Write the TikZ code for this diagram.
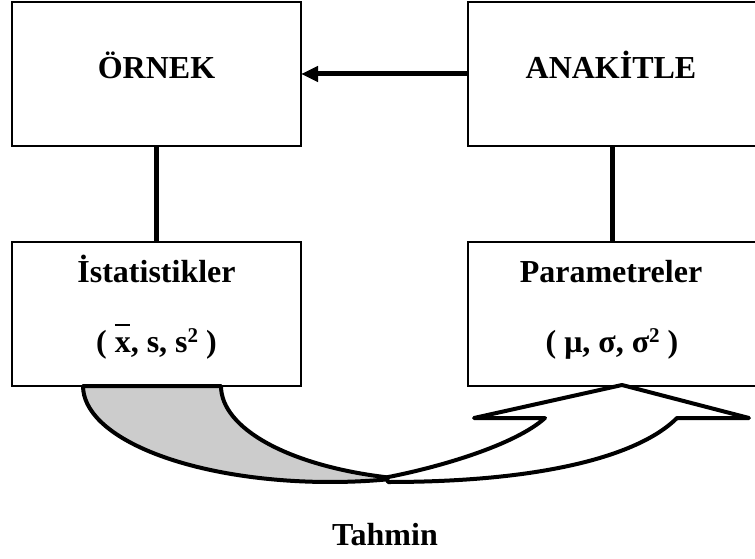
\documentclass[tikz,border=0pt]{standalone}
\usepackage{fontspec}
\setmainfont{Liberation Serif}
\usetikzlibrary{arrows.meta}
\definecolor{swgray}{RGB}{204,204,204}
% x with a detached bar above it, and a small raised 2
\newcommand\xbarmark{\makebox[0pt][l]{\raisebox{0.8em}{\rule{0.47em}{0.06em}}}x}
\newcommand\sqmark{\raisebox{0.3em}{\fontsize{21}{21}\selectfont 2}}
\begin{document}
\begin{tikzpicture}[x=1pt,y=-1pt,
  box/.style={draw=black, line width=2pt, minimum width=289pt, minimum height=144pt,
              inner sep=0pt, outer sep=0pt, anchor=north west},
  lbl/.style={font=\fontsize{32}{38}\selectfont\bfseries, inner sep=0pt, anchor=base},
  link/.style={line width=5pt},
  swoosh/.style={line width=4pt, line join=round}]

% canvas
\fill[white] (0,0) rectangle (755,559);
\useasboundingbox (0,0) rectangle (755,559);

% boxes
\node[box] (ornek)    at (12,2)    {};
\node[box] (anakitle) at (468,2)   {};
\node[box] (istat)    at (12,242)  {};
\node[box] (param)    at (468,242) {};

% labels
\node[lbl] (tornek)    at (156.5,79)  {ÖRNEK};
\node[lbl] (tanakitle) at (611,79)    {ANAKİTLE};
\node[lbl] (tistat)    at (156.5,282) {İstatistikler};
\node[lbl] (tstat)     at (156.5,352) {( \xbarmark, s, s\sqmark{} )};
\node[lbl] (tparam)    at (611,282)   {Parametreler};
\node[lbl] (tpar)      at (612,352)   {( μ, σ, σ\sqmark{} )};
\node[lbl] (ttahmin)   at (385,545)   {Tahmin};

% connectors
\draw[link, -{Triangle[length=17pt,width=15pt]}] (anakitle.west) -- (ornek.east);
\draw[link] (ornek.south) -- (istat.north);
\draw[link] (anakitle.south) -- (param.north);

% curved arrow: grey back part
\coordinate (meet) at (386.9,477.3);
\filldraw[swoosh, fill=swgray]
  (83,386) -- (221,386)
  arc[start angle=180, end angle=106, x radius=229, y radius=95]
  -- (388.1,479.3)
  arc[start angle=76.4, end angle=180, x radius=247, y radius=96]
  -- cycle;

% curved arrow: white front part with head
\filldraw[swoosh, fill=white]
  (meet) .. controls (440,467) and (515,445) .. (545,418)
  -- (474,418) -- (622,385) -- (749,418) -- (677,418)
  .. controls (640,455) and (545,482) .. (388,482)
  -- cycle;

\end{tikzpicture}
\end{document}
